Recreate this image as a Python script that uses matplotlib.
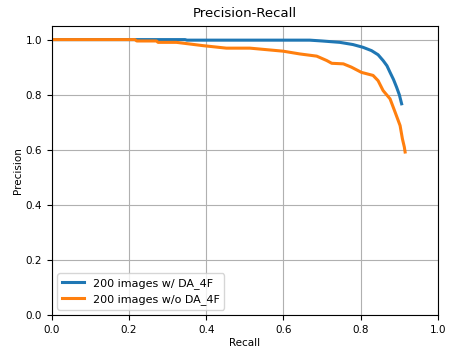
import numpy as np
from matplotlib import pyplot as plt

# recall / precision
recall_w = [0.0, 0.20, 0.345, 0.35, 0.50, 0.60, 0.668, 0.70, 0.746, 0.78, 0.806,
            0.828, 0.845, 0.858, 0.868, 0.876, 0.885, 0.893, 0.90, 0.906]
prec_w = [1.0, 1.0, 1.0, 0.998, 0.998, 0.998, 0.998, 0.995, 0.990, 0.982, 0.972,
          0.960, 0.945, 0.924, 0.905, 0.881, 0.855, 0.827, 0.80, 0.767]

recall_wo = [0.0, 0.215, 0.22, 0.271, 0.275, 0.323, 0.392, 0.452, 0.513, 0.599,
             0.642, 0.686, 0.712, 0.725, 0.755, 0.776, 0.802, 0.832, 0.845, 0.858,
             0.876, 0.889, 0.902, 0.908, 0.913, 0.915]
prec_wo = [1.0, 1.0, 0.995, 0.995, 0.99, 0.990, 0.978, 0.969, 0.969, 0.958,
           0.948, 0.940, 0.924, 0.914, 0.912, 0.900, 0.881, 0.870, 0.851, 0.815,
           0.785, 0.737, 0.688, 0.64, 0.61, 0.592]

fig = plt.figure(figsize=(4.51, 3.49), dpi=100)
ax = fig.add_axes([0.115, 0.097, 0.856, 0.829])
ax.plot(recall_w, prec_w, color='tab:blue', lw=2.2, label='200 images w/ DA_4F')
ax.plot(recall_wo, prec_wo, color='tab:orange', lw=2.2, label='200 images w/o DA_4F')
ax.set_xlim(0, 1.0)
ax.set_ylim(0, 1.05)
ax.set_xticks(np.arange(0, 1.01, 0.2))
ax.set_yticks(np.arange(0, 1.01, 0.2))
ax.tick_params(labelsize=7.5)
ax.grid(True)
ax.set_xlabel('Recall', fontsize=7.5, labelpad=2)
ax.set_ylabel('Precision', fontsize=7.5, labelpad=2)
ax.set_title('Precision-Recall', fontsize=9.5)
ax.legend(loc='lower left', fontsize=8)
fig.savefig('out.png', dpi=100)
